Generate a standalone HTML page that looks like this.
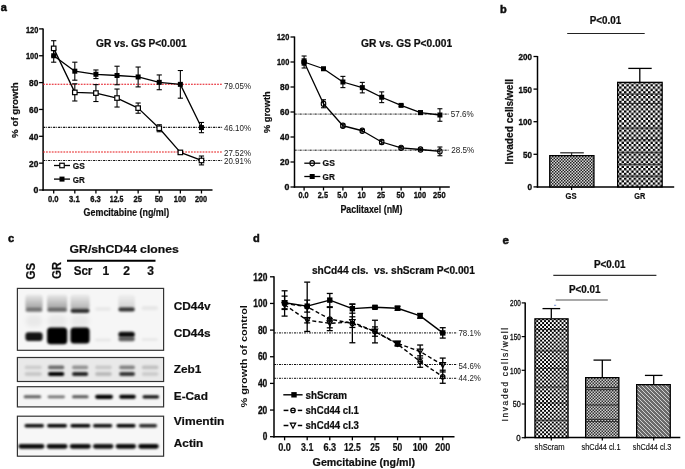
<!DOCTYPE html>
<html><head><meta charset="utf-8"><style>
html,body{margin:0;padding:0;background:#fff;}
body{width:685px;height:469px;overflow:hidden;}
svg{display:block;font-family:"Liberation Sans", sans-serif;}
</style></head><body>
<svg width="685" height="469" viewBox="0 0 685 469">
<rect width="685" height="469" fill="#fff"/>
<defs>
<pattern id="chk" width="4.8" height="4.8" patternUnits="userSpaceOnUse"><rect width="4.8" height="4.8" fill="#fff"/><rect width="2.4" height="2.4" fill="#000"/><rect x="2.4" y="2.4" width="2.4" height="2.4" fill="#000"/></pattern>
<pattern id="chk2" width="3.9" height="3.9" patternUnits="userSpaceOnUse" x="534.3" y="318.2"><rect width="3.9" height="3.9" fill="#fff"/><rect width="1.95" height="1.95" fill="#000"/><rect x="1.95" y="1.95" width="1.95" height="1.95" fill="#000"/></pattern>
<pattern id="fine" width="3" height="3" patternUnits="userSpaceOnUse"><rect width="3" height="3" fill="#d8d8d8"/><rect width="1.5" height="1.5" fill="#222"/><rect x="1.5" y="1.5" width="1.5" height="1.5" fill="#222"/></pattern>
<pattern id="fine2" width="3" height="3" patternUnits="userSpaceOnUse"><rect width="3" height="3" fill="#d0d0d0"/><rect width="1.5" height="1.5" fill="#333"/><rect x="1.5" y="1.5" width="1.5" height="1.5" fill="#333"/></pattern>
<pattern id="diag" width="4" height="4" patternUnits="userSpaceOnUse"><rect width="4" height="4" fill="#6a6a6a"/><path d="M0,0 L4,4" stroke="#ddd" stroke-width="0.9"/></pattern>
<filter id="blur1" x="-50%" y="-50%" width="200%" height="200%"><feGaussianBlur stdDeviation="1.6"/></filter>
<filter id="blur2" x="-50%" y="-50%" width="200%" height="200%"><feGaussianBlur stdDeviation="2.6"/></filter>
<filter id="blurS" x="-50%" y="-50%" width="200%" height="200%"><feGaussianBlur stdDeviation="0.35"/></filter>
<filter id="bl5" x="-50%" y="-100%" width="200%" height="300%"><feGaussianBlur stdDeviation="0.5"/></filter>
<filter id="bl6" x="-50%" y="-100%" width="200%" height="300%"><feGaussianBlur stdDeviation="0.6"/></filter>
<filter id="bl7" x="-50%" y="-100%" width="200%" height="300%"><feGaussianBlur stdDeviation="0.7"/></filter>
<filter id="bl8" x="-50%" y="-100%" width="200%" height="300%"><feGaussianBlur stdDeviation="0.8"/></filter>
<filter id="bl9" x="-50%" y="-100%" width="200%" height="300%"><feGaussianBlur stdDeviation="0.9"/></filter>
<filter id="bl10" x="-50%" y="-100%" width="200%" height="300%"><feGaussianBlur stdDeviation="1.0"/></filter>
<filter id="bl11" x="-50%" y="-100%" width="200%" height="300%"><feGaussianBlur stdDeviation="1.1"/></filter>
<filter id="bl12" x="-50%" y="-100%" width="200%" height="300%"><feGaussianBlur stdDeviation="1.2"/></filter>
<filter id="bl13" x="-50%" y="-100%" width="200%" height="300%"><feGaussianBlur stdDeviation="1.3"/></filter>
<filter id="bl14" x="-50%" y="-100%" width="200%" height="300%"><feGaussianBlur stdDeviation="1.4"/></filter>
<filter id="bl15" x="-50%" y="-100%" width="200%" height="300%"><feGaussianBlur stdDeviation="1.5"/></filter>
<filter id="bl16" x="-50%" y="-100%" width="200%" height="300%"><feGaussianBlur stdDeviation="1.6"/></filter>
<filter id="bl17" x="-50%" y="-100%" width="200%" height="300%"><feGaussianBlur stdDeviation="1.7"/></filter>
<filter id="bl18" x="-50%" y="-100%" width="200%" height="300%"><feGaussianBlur stdDeviation="1.8"/></filter>
<filter id="bl19" x="-50%" y="-100%" width="200%" height="300%"><feGaussianBlur stdDeviation="1.9"/></filter>
<filter id="bl20" x="-50%" y="-100%" width="200%" height="300%"><feGaussianBlur stdDeviation="2.0"/></filter>
<filter id="bl21" x="-50%" y="-100%" width="200%" height="300%"><feGaussianBlur stdDeviation="2.1"/></filter>
<filter id="bl22" x="-50%" y="-100%" width="200%" height="300%"><feGaussianBlur stdDeviation="2.2"/></filter>
<filter id="bl23" x="-50%" y="-100%" width="200%" height="300%"><feGaussianBlur stdDeviation="2.3"/></filter>
<filter id="bl24" x="-50%" y="-100%" width="200%" height="300%"><feGaussianBlur stdDeviation="2.4"/></filter>
</defs>
<g filter="url(#blurS)">
<text x="0.70" y="11.10" font-size="11" font-weight="bold" text-anchor="start" fill="#111" stroke="#111" stroke-width="0.5">a</text>
<line x1="43.10" y1="28.40" x2="43.10" y2="190.75" stroke="#000" stroke-width="1.5" />
<line x1="42.35" y1="190.00" x2="212.50" y2="190.00" stroke="#000" stroke-width="1.5" />
<line x1="39.10" y1="190.00" x2="43.10" y2="190.00" stroke="#000" stroke-width="1.3" />
<text x="38.30" y="193.20" font-size="8.8" font-weight="bold" text-anchor="end" fill="#111" stroke="#111" stroke-width="0.35">0</text>
<line x1="39.10" y1="163.15" x2="43.10" y2="163.15" stroke="#000" stroke-width="1.3" />
<text x="38.30" y="166.75" font-size="8.8" font-weight="bold" text-anchor="end" fill="#111" textLength="9.3" lengthAdjust="spacingAndGlyphs" stroke="#111" stroke-width="0.35">20</text>
<line x1="39.10" y1="136.30" x2="43.10" y2="136.30" stroke="#000" stroke-width="1.3" />
<text x="38.30" y="139.90" font-size="8.8" font-weight="bold" text-anchor="end" fill="#111" textLength="9.3" lengthAdjust="spacingAndGlyphs" stroke="#111" stroke-width="0.35">40</text>
<line x1="39.10" y1="109.45" x2="43.10" y2="109.45" stroke="#000" stroke-width="1.3" />
<text x="38.30" y="113.05" font-size="8.8" font-weight="bold" text-anchor="end" fill="#111" textLength="9.3" lengthAdjust="spacingAndGlyphs" stroke="#111" stroke-width="0.35">60</text>
<line x1="39.10" y1="82.60" x2="43.10" y2="82.60" stroke="#000" stroke-width="1.3" />
<text x="38.30" y="86.20" font-size="8.8" font-weight="bold" text-anchor="end" fill="#111" textLength="9.3" lengthAdjust="spacingAndGlyphs" stroke="#111" stroke-width="0.35">80</text>
<line x1="39.10" y1="55.75" x2="43.10" y2="55.75" stroke="#000" stroke-width="1.3" />
<text x="38.30" y="59.35" font-size="8.8" font-weight="bold" text-anchor="end" fill="#111" textLength="12.3" lengthAdjust="spacingAndGlyphs" stroke="#111" stroke-width="0.35">100</text>
<line x1="39.10" y1="28.90" x2="43.10" y2="28.90" stroke="#000" stroke-width="1.3" />
<text x="38.30" y="32.50" font-size="8.8" font-weight="bold" text-anchor="end" fill="#111" textLength="12.3" lengthAdjust="spacingAndGlyphs" stroke="#111" stroke-width="0.35">120</text>
<line x1="53.70" y1="190.00" x2="53.70" y2="193.50" stroke="#000" stroke-width="1.3" />
<text x="53.30" y="202.30" font-size="9.3" font-weight="bold" text-anchor="middle" fill="#111" textLength="10.6" lengthAdjust="spacingAndGlyphs" stroke="#111" stroke-width="0.35">0.0</text>
<line x1="74.81" y1="190.00" x2="74.81" y2="193.50" stroke="#000" stroke-width="1.3" />
<text x="74.41" y="202.30" font-size="9.3" font-weight="bold" text-anchor="middle" fill="#111" textLength="10.6" lengthAdjust="spacingAndGlyphs" stroke="#111" stroke-width="0.35">3.1</text>
<line x1="95.92" y1="190.00" x2="95.92" y2="193.50" stroke="#000" stroke-width="1.3" />
<text x="95.52" y="202.30" font-size="9.3" font-weight="bold" text-anchor="middle" fill="#111" textLength="10.6" lengthAdjust="spacingAndGlyphs" stroke="#111" stroke-width="0.35">6.3</text>
<line x1="117.03" y1="190.00" x2="117.03" y2="193.50" stroke="#000" stroke-width="1.3" />
<text x="116.63" y="202.30" font-size="9.3" font-weight="bold" text-anchor="middle" fill="#111" textLength="13.6" lengthAdjust="spacingAndGlyphs" stroke="#111" stroke-width="0.35">12.5</text>
<line x1="138.14" y1="190.00" x2="138.14" y2="193.50" stroke="#000" stroke-width="1.3" />
<text x="137.74" y="202.30" font-size="9.3" font-weight="bold" text-anchor="middle" fill="#111" textLength="8.4" lengthAdjust="spacingAndGlyphs" stroke="#111" stroke-width="0.35">25</text>
<line x1="159.25" y1="190.00" x2="159.25" y2="193.50" stroke="#000" stroke-width="1.3" />
<text x="158.85" y="202.30" font-size="9.3" font-weight="bold" text-anchor="middle" fill="#111" textLength="8.4" lengthAdjust="spacingAndGlyphs" stroke="#111" stroke-width="0.35">50</text>
<line x1="180.36" y1="190.00" x2="180.36" y2="193.50" stroke="#000" stroke-width="1.3" />
<text x="179.96" y="202.30" font-size="9.3" font-weight="bold" text-anchor="middle" fill="#111" textLength="12.3" lengthAdjust="spacingAndGlyphs" stroke="#111" stroke-width="0.35">100</text>
<line x1="201.47" y1="190.00" x2="201.47" y2="193.50" stroke="#000" stroke-width="1.3" />
<text x="201.07" y="202.30" font-size="9.3" font-weight="bold" text-anchor="middle" fill="#111" textLength="12.3" lengthAdjust="spacingAndGlyphs" stroke="#111" stroke-width="0.35">200</text>
<text x="83.60" y="215.80" font-size="10.4" font-weight="bold" text-anchor="start" fill="#111" textLength="85.6" lengthAdjust="spacingAndGlyphs" stroke="#111" stroke-width="0.22">Gemcitabine (ng/ml)</text>
<text x="18.40" y="137.90" font-size="8.4" font-weight="bold" text-anchor="start" fill="#111" textLength="55.7" lengthAdjust="spacingAndGlyphs" transform="rotate(-90 18.40 137.90)" stroke="#111" stroke-width="0.22">% of growth</text>
<text x="96.00" y="47.00" font-size="10" font-weight="bold" text-anchor="start" fill="#111" textLength="90.7" lengthAdjust="spacingAndGlyphs" stroke="#111" stroke-width="0.22">GR vs. GS P&lt;0.001</text>
<line x1="43.10" y1="84.20" x2="222.60" y2="84.20" stroke="#e5141c" stroke-width="1.1" stroke-dasharray="1.8,1.1" />
<line x1="43.10" y1="127.40" x2="222.60" y2="127.40" stroke="#111" stroke-width="1.1" stroke-dasharray="2.2,1,0.8,1" />
<line x1="43.10" y1="152.00" x2="222.60" y2="152.00" stroke="#e5141c" stroke-width="1.1" stroke-dasharray="1.8,1.1" />
<line x1="43.10" y1="160.50" x2="222.60" y2="160.50" stroke="#111" stroke-width="1.1" stroke-dasharray="2.2,1,0.8,1" />
<text x="224.00" y="89.30" font-size="8.2" font-weight="normal" text-anchor="start" fill="#222" textLength="27.0" lengthAdjust="spacingAndGlyphs" >79.05%</text>
<text x="224.00" y="131.00" font-size="8.2" font-weight="normal" text-anchor="start" fill="#222" textLength="27.0" lengthAdjust="spacingAndGlyphs" >46.10%</text>
<text x="224.00" y="156.00" font-size="8.2" font-weight="normal" text-anchor="start" fill="#222" textLength="27.0" lengthAdjust="spacingAndGlyphs" >27.52%</text>
<text x="224.00" y="164.20" font-size="8.2" font-weight="normal" text-anchor="start" fill="#222" textLength="27.0" lengthAdjust="spacingAndGlyphs" >20.91%</text>
<line x1="53.70" y1="40.71" x2="53.70" y2="56.02" stroke="#000" stroke-width="1.1" />
<line x1="51.10" y1="40.71" x2="56.30" y2="40.71" stroke="#000" stroke-width="1.1" />
<line x1="51.10" y1="56.02" x2="56.30" y2="56.02" stroke="#000" stroke-width="1.1" />
<line x1="53.70" y1="49.31" x2="53.70" y2="62.19" stroke="#000" stroke-width="1.1" />
<line x1="51.10" y1="49.31" x2="56.30" y2="49.31" stroke="#000" stroke-width="1.1" />
<line x1="51.10" y1="62.19" x2="56.30" y2="62.19" stroke="#000" stroke-width="1.1" />
<line x1="74.81" y1="83.81" x2="74.81" y2="100.99" stroke="#000" stroke-width="1.1" />
<line x1="72.21" y1="83.81" x2="77.41" y2="83.81" stroke="#000" stroke-width="1.1" />
<line x1="72.21" y1="100.99" x2="77.41" y2="100.99" stroke="#000" stroke-width="1.1" />
<line x1="74.81" y1="62.19" x2="74.81" y2="80.18" stroke="#000" stroke-width="1.1" />
<line x1="72.21" y1="62.19" x2="77.41" y2="62.19" stroke="#000" stroke-width="1.1" />
<line x1="72.21" y1="80.18" x2="77.41" y2="80.18" stroke="#000" stroke-width="1.1" />
<line x1="95.92" y1="84.61" x2="95.92" y2="101.53" stroke="#000" stroke-width="1.1" />
<line x1="93.32" y1="84.61" x2="98.52" y2="84.61" stroke="#000" stroke-width="1.1" />
<line x1="93.32" y1="101.53" x2="98.52" y2="101.53" stroke="#000" stroke-width="1.1" />
<line x1="95.92" y1="69.98" x2="95.92" y2="78.57" stroke="#000" stroke-width="1.1" />
<line x1="93.32" y1="69.98" x2="98.52" y2="69.98" stroke="#000" stroke-width="1.1" />
<line x1="93.32" y1="78.57" x2="98.52" y2="78.57" stroke="#000" stroke-width="1.1" />
<line x1="117.03" y1="89.04" x2="117.03" y2="107.03" stroke="#000" stroke-width="1.1" />
<line x1="114.43" y1="89.04" x2="119.63" y2="89.04" stroke="#000" stroke-width="1.1" />
<line x1="114.43" y1="107.03" x2="119.63" y2="107.03" stroke="#000" stroke-width="1.1" />
<line x1="117.03" y1="66.22" x2="117.03" y2="84.75" stroke="#000" stroke-width="1.1" />
<line x1="114.43" y1="66.22" x2="119.63" y2="66.22" stroke="#000" stroke-width="1.1" />
<line x1="114.43" y1="84.75" x2="119.63" y2="84.75" stroke="#000" stroke-width="1.1" />
<line x1="138.14" y1="103.01" x2="138.14" y2="113.21" stroke="#000" stroke-width="1.1" />
<line x1="135.54" y1="103.01" x2="140.74" y2="103.01" stroke="#000" stroke-width="1.1" />
<line x1="135.54" y1="113.21" x2="140.74" y2="113.21" stroke="#000" stroke-width="1.1" />
<line x1="138.14" y1="67.03" x2="138.14" y2="86.90" stroke="#000" stroke-width="1.1" />
<line x1="135.54" y1="67.03" x2="140.74" y2="67.03" stroke="#000" stroke-width="1.1" />
<line x1="135.54" y1="86.90" x2="140.74" y2="86.90" stroke="#000" stroke-width="1.1" />
<line x1="159.25" y1="124.75" x2="159.25" y2="131.74" stroke="#000" stroke-width="1.1" />
<line x1="156.65" y1="124.75" x2="161.85" y2="124.75" stroke="#000" stroke-width="1.1" />
<line x1="156.65" y1="131.74" x2="161.85" y2="131.74" stroke="#000" stroke-width="1.1" />
<line x1="159.25" y1="74.95" x2="159.25" y2="89.72" stroke="#000" stroke-width="1.1" />
<line x1="156.65" y1="74.95" x2="161.85" y2="74.95" stroke="#000" stroke-width="1.1" />
<line x1="156.65" y1="89.72" x2="161.85" y2="89.72" stroke="#000" stroke-width="1.1" />
<line x1="180.36" y1="150.80" x2="180.36" y2="154.02" stroke="#000" stroke-width="1.1" />
<line x1="177.76" y1="150.80" x2="182.96" y2="150.80" stroke="#000" stroke-width="1.1" />
<line x1="177.76" y1="154.02" x2="182.96" y2="154.02" stroke="#000" stroke-width="1.1" />
<line x1="180.36" y1="70.52" x2="180.36" y2="98.17" stroke="#000" stroke-width="1.1" />
<line x1="177.76" y1="70.52" x2="182.96" y2="70.52" stroke="#000" stroke-width="1.1" />
<line x1="177.76" y1="98.17" x2="182.96" y2="98.17" stroke="#000" stroke-width="1.1" />
<line x1="201.47" y1="156.03" x2="201.47" y2="164.90" stroke="#000" stroke-width="1.1" />
<line x1="198.87" y1="156.03" x2="204.07" y2="156.03" stroke="#000" stroke-width="1.1" />
<line x1="198.87" y1="164.90" x2="204.07" y2="164.90" stroke="#000" stroke-width="1.1" />
<line x1="201.47" y1="122.47" x2="201.47" y2="132.68" stroke="#000" stroke-width="1.1" />
<line x1="198.87" y1="122.47" x2="204.07" y2="122.47" stroke="#000" stroke-width="1.1" />
<line x1="198.87" y1="132.68" x2="204.07" y2="132.68" stroke="#000" stroke-width="1.1" />
<polyline points="53.70,48.37 74.81,92.40 95.92,93.07 117.03,98.04 138.14,108.11 159.25,128.25 180.36,152.41 201.47,160.47" fill="none" stroke="#000" stroke-width="1.3" stroke-linejoin="round"/>
<polyline points="53.70,55.75 74.81,71.19 95.92,74.28 117.03,75.48 138.14,76.96 159.25,82.33 180.36,84.35 201.47,127.57" fill="none" stroke="#000" stroke-width="1.3" stroke-linejoin="round"/>
<rect x="51.45" y="46.12" width="4.50" height="4.50" fill="#fff" stroke="#000" stroke-width="1.2" />
<rect x="51.20" y="53.25" width="5.00" height="5.00" fill="#000" stroke="none" stroke-width="1" />
<rect x="72.56" y="90.15" width="4.50" height="4.50" fill="#fff" stroke="#000" stroke-width="1.2" />
<rect x="72.31" y="68.69" width="5.00" height="5.00" fill="#000" stroke="none" stroke-width="1" />
<rect x="93.67" y="90.82" width="4.50" height="4.50" fill="#fff" stroke="#000" stroke-width="1.2" />
<rect x="93.42" y="71.78" width="5.00" height="5.00" fill="#000" stroke="none" stroke-width="1" />
<rect x="114.78" y="95.79" width="4.50" height="4.50" fill="#fff" stroke="#000" stroke-width="1.2" />
<rect x="114.53" y="72.98" width="5.00" height="5.00" fill="#000" stroke="none" stroke-width="1" />
<rect x="135.89" y="105.86" width="4.50" height="4.50" fill="#fff" stroke="#000" stroke-width="1.2" />
<rect x="135.64" y="74.46" width="5.00" height="5.00" fill="#000" stroke="none" stroke-width="1" />
<rect x="157.00" y="126.00" width="4.50" height="4.50" fill="#fff" stroke="#000" stroke-width="1.2" />
<rect x="156.75" y="79.83" width="5.00" height="5.00" fill="#000" stroke="none" stroke-width="1" />
<rect x="178.11" y="150.16" width="4.50" height="4.50" fill="#fff" stroke="#000" stroke-width="1.2" />
<rect x="177.86" y="81.85" width="5.00" height="5.00" fill="#000" stroke="none" stroke-width="1" />
<rect x="199.22" y="158.22" width="4.50" height="4.50" fill="#fff" stroke="#000" stroke-width="1.2" />
<rect x="198.97" y="125.07" width="5.00" height="5.00" fill="#000" stroke="none" stroke-width="1" />
<line x1="54.00" y1="165.50" x2="70.00" y2="165.50" stroke="#000" stroke-width="1.3" />
<rect x="59.75" y="163.25" width="4.50" height="4.50" fill="#fff" stroke="#000" stroke-width="1.2" />
<text x="72.80" y="169.00" font-size="9.2" font-weight="bold" text-anchor="start" fill="#111" textLength="12.0" lengthAdjust="spacingAndGlyphs" stroke="#111" stroke-width="0.22">GS</text>
<line x1="54.00" y1="179.10" x2="70.00" y2="179.10" stroke="#000" stroke-width="1.3" />
<rect x="59.50" y="176.60" width="5.00" height="5.00" fill="#000" stroke="none" stroke-width="1" />
<text x="72.80" y="182.60" font-size="9.2" font-weight="bold" text-anchor="start" fill="#111" textLength="12.0" lengthAdjust="spacingAndGlyphs" stroke="#111" stroke-width="0.22">GR</text>
<line x1="294.50" y1="36.50" x2="294.50" y2="187.75" stroke="#000" stroke-width="1.5" />
<line x1="293.75" y1="187.00" x2="449.80" y2="187.00" stroke="#000" stroke-width="1.5" />
<line x1="290.50" y1="187.00" x2="294.50" y2="187.00" stroke="#000" stroke-width="1.3" />
<text x="289.30" y="190.40" font-size="8.8" font-weight="bold" text-anchor="end" fill="#111" stroke="#111" stroke-width="0.35">0</text>
<line x1="290.50" y1="162.00" x2="294.50" y2="162.00" stroke="#000" stroke-width="1.3" />
<text x="289.30" y="165.40" font-size="8.8" font-weight="bold" text-anchor="end" fill="#111" textLength="9.3" lengthAdjust="spacingAndGlyphs" stroke="#111" stroke-width="0.35">20</text>
<line x1="290.50" y1="137.00" x2="294.50" y2="137.00" stroke="#000" stroke-width="1.3" />
<text x="289.30" y="140.40" font-size="8.8" font-weight="bold" text-anchor="end" fill="#111" textLength="9.3" lengthAdjust="spacingAndGlyphs" stroke="#111" stroke-width="0.35">40</text>
<line x1="290.50" y1="112.00" x2="294.50" y2="112.00" stroke="#000" stroke-width="1.3" />
<text x="289.30" y="115.40" font-size="8.8" font-weight="bold" text-anchor="end" fill="#111" textLength="9.3" lengthAdjust="spacingAndGlyphs" stroke="#111" stroke-width="0.35">60</text>
<line x1="290.50" y1="87.00" x2="294.50" y2="87.00" stroke="#000" stroke-width="1.3" />
<text x="289.30" y="90.40" font-size="8.8" font-weight="bold" text-anchor="end" fill="#111" textLength="9.3" lengthAdjust="spacingAndGlyphs" stroke="#111" stroke-width="0.35">80</text>
<line x1="290.50" y1="62.00" x2="294.50" y2="62.00" stroke="#000" stroke-width="1.3" />
<text x="289.30" y="65.40" font-size="8.8" font-weight="bold" text-anchor="end" fill="#111" textLength="12.3" lengthAdjust="spacingAndGlyphs" stroke="#111" stroke-width="0.35">100</text>
<line x1="290.50" y1="37.00" x2="294.50" y2="37.00" stroke="#000" stroke-width="1.3" />
<text x="289.30" y="40.40" font-size="8.8" font-weight="bold" text-anchor="end" fill="#111" textLength="12.3" lengthAdjust="spacingAndGlyphs" stroke="#111" stroke-width="0.35">120</text>
<line x1="304.10" y1="187.00" x2="304.10" y2="190.50" stroke="#000" stroke-width="1.3" />
<text x="303.50" y="198.40" font-size="9.3" font-weight="bold" text-anchor="middle" fill="#111" textLength="10.2" lengthAdjust="spacingAndGlyphs" stroke="#111" stroke-width="0.35">0.0</text>
<line x1="323.50" y1="187.00" x2="323.50" y2="190.50" stroke="#000" stroke-width="1.3" />
<text x="322.90" y="198.40" font-size="9.3" font-weight="bold" text-anchor="middle" fill="#111" textLength="10.2" lengthAdjust="spacingAndGlyphs" stroke="#111" stroke-width="0.35">2.5</text>
<line x1="342.90" y1="187.00" x2="342.90" y2="190.50" stroke="#000" stroke-width="1.3" />
<text x="342.30" y="198.40" font-size="9.3" font-weight="bold" text-anchor="middle" fill="#111" textLength="10.2" lengthAdjust="spacingAndGlyphs" stroke="#111" stroke-width="0.35">5.0</text>
<line x1="362.30" y1="187.00" x2="362.30" y2="190.50" stroke="#000" stroke-width="1.3" />
<text x="361.70" y="198.40" font-size="9.3" font-weight="bold" text-anchor="middle" fill="#111" textLength="8.2" lengthAdjust="spacingAndGlyphs" stroke="#111" stroke-width="0.35">10</text>
<line x1="381.70" y1="187.00" x2="381.70" y2="190.50" stroke="#000" stroke-width="1.3" />
<text x="381.10" y="198.40" font-size="9.3" font-weight="bold" text-anchor="middle" fill="#111" textLength="8.2" lengthAdjust="spacingAndGlyphs" stroke="#111" stroke-width="0.35">25</text>
<line x1="401.10" y1="187.00" x2="401.10" y2="190.50" stroke="#000" stroke-width="1.3" />
<text x="400.50" y="198.40" font-size="9.3" font-weight="bold" text-anchor="middle" fill="#111" textLength="8.2" lengthAdjust="spacingAndGlyphs" stroke="#111" stroke-width="0.35">50</text>
<line x1="420.50" y1="187.00" x2="420.50" y2="190.50" stroke="#000" stroke-width="1.3" />
<text x="419.90" y="198.40" font-size="9.3" font-weight="bold" text-anchor="middle" fill="#111" textLength="12.5" lengthAdjust="spacingAndGlyphs" stroke="#111" stroke-width="0.35">100</text>
<line x1="439.90" y1="187.00" x2="439.90" y2="190.50" stroke="#000" stroke-width="1.3" />
<text x="439.30" y="198.40" font-size="9.3" font-weight="bold" text-anchor="middle" fill="#111" textLength="12.5" lengthAdjust="spacingAndGlyphs" stroke="#111" stroke-width="0.35">250</text>
<text x="340.40" y="212.60" font-size="10.2" font-weight="bold" text-anchor="start" fill="#111" textLength="62.0" lengthAdjust="spacingAndGlyphs" stroke="#111" stroke-width="0.22">Paclitaxel (nM)</text>
<text x="269.60" y="132.90" font-size="8.4" font-weight="bold" text-anchor="start" fill="#111" textLength="41.5" lengthAdjust="spacingAndGlyphs" transform="rotate(-90 269.60 132.90)" stroke="#111" stroke-width="0.22">% growth</text>
<text x="361.10" y="47.00" font-size="10" font-weight="bold" text-anchor="start" fill="#111" textLength="91.0" lengthAdjust="spacingAndGlyphs" stroke="#111" stroke-width="0.22">GR vs. GS P&lt;0.001</text>
<line x1="294.50" y1="114.10" x2="449.00" y2="114.10" stroke="#111" stroke-width="1.0" stroke-dasharray="2.2,1,0.8,1" />
<line x1="294.50" y1="150.20" x2="449.00" y2="150.20" stroke="#111" stroke-width="1.0" stroke-dasharray="2.2,1,0.8,1" />
<text x="450.80" y="117.20" font-size="8.2" font-weight="normal" text-anchor="start" fill="#222" textLength="23.0" lengthAdjust="spacingAndGlyphs" >57.6%</text>
<text x="451.30" y="153.20" font-size="8.2" font-weight="normal" text-anchor="start" fill="#222" textLength="23.0" lengthAdjust="spacingAndGlyphs" >28.5%</text>
<line x1="304.10" y1="58.88" x2="304.10" y2="65.12" stroke="#000" stroke-width="1.1" />
<line x1="301.60" y1="58.88" x2="306.60" y2="58.88" stroke="#000" stroke-width="1.1" />
<line x1="301.60" y1="65.12" x2="306.60" y2="65.12" stroke="#000" stroke-width="1.1" />
<line x1="304.10" y1="56.00" x2="304.10" y2="68.00" stroke="#000" stroke-width="1.1" />
<line x1="301.60" y1="56.00" x2="306.60" y2="56.00" stroke="#000" stroke-width="1.1" />
<line x1="301.60" y1="68.00" x2="306.60" y2="68.00" stroke="#000" stroke-width="1.1" />
<line x1="323.50" y1="99.75" x2="323.50" y2="107.75" stroke="#000" stroke-width="1.1" />
<line x1="321.00" y1="99.75" x2="326.00" y2="99.75" stroke="#000" stroke-width="1.1" />
<line x1="321.00" y1="107.75" x2="326.00" y2="107.75" stroke="#000" stroke-width="1.1" />
<line x1="323.50" y1="67.50" x2="323.50" y2="70.00" stroke="#000" stroke-width="1.1" />
<line x1="321.00" y1="67.50" x2="326.00" y2="67.50" stroke="#000" stroke-width="1.1" />
<line x1="321.00" y1="70.00" x2="326.00" y2="70.00" stroke="#000" stroke-width="1.1" />
<line x1="342.90" y1="124.25" x2="342.90" y2="127.25" stroke="#000" stroke-width="1.1" />
<line x1="340.40" y1="124.25" x2="345.40" y2="124.25" stroke="#000" stroke-width="1.1" />
<line x1="340.40" y1="127.25" x2="345.40" y2="127.25" stroke="#000" stroke-width="1.1" />
<line x1="342.90" y1="76.38" x2="342.90" y2="87.62" stroke="#000" stroke-width="1.1" />
<line x1="340.40" y1="76.38" x2="345.40" y2="76.38" stroke="#000" stroke-width="1.1" />
<line x1="340.40" y1="87.62" x2="345.40" y2="87.62" stroke="#000" stroke-width="1.1" />
<line x1="362.30" y1="129.50" x2="362.30" y2="132.00" stroke="#000" stroke-width="1.1" />
<line x1="359.80" y1="129.50" x2="364.80" y2="129.50" stroke="#000" stroke-width="1.1" />
<line x1="359.80" y1="132.00" x2="364.80" y2="132.00" stroke="#000" stroke-width="1.1" />
<line x1="362.30" y1="82.38" x2="362.30" y2="92.88" stroke="#000" stroke-width="1.1" />
<line x1="359.80" y1="82.38" x2="364.80" y2="82.38" stroke="#000" stroke-width="1.1" />
<line x1="359.80" y1="92.88" x2="364.80" y2="92.88" stroke="#000" stroke-width="1.1" />
<line x1="381.70" y1="140.12" x2="381.70" y2="143.88" stroke="#000" stroke-width="1.1" />
<line x1="379.20" y1="140.12" x2="384.20" y2="140.12" stroke="#000" stroke-width="1.1" />
<line x1="379.20" y1="143.88" x2="384.20" y2="143.88" stroke="#000" stroke-width="1.1" />
<line x1="381.70" y1="91.88" x2="381.70" y2="102.62" stroke="#000" stroke-width="1.1" />
<line x1="379.20" y1="91.88" x2="384.20" y2="91.88" stroke="#000" stroke-width="1.1" />
<line x1="379.20" y1="102.62" x2="384.20" y2="102.62" stroke="#000" stroke-width="1.1" />
<line x1="401.10" y1="146.62" x2="401.10" y2="149.12" stroke="#000" stroke-width="1.1" />
<line x1="398.60" y1="146.62" x2="403.60" y2="146.62" stroke="#000" stroke-width="1.1" />
<line x1="398.60" y1="149.12" x2="403.60" y2="149.12" stroke="#000" stroke-width="1.1" />
<line x1="401.10" y1="104.38" x2="401.10" y2="106.38" stroke="#000" stroke-width="1.1" />
<line x1="398.60" y1="104.38" x2="403.60" y2="104.38" stroke="#000" stroke-width="1.1" />
<line x1="398.60" y1="106.38" x2="403.60" y2="106.38" stroke="#000" stroke-width="1.1" />
<line x1="420.50" y1="148.25" x2="420.50" y2="150.75" stroke="#000" stroke-width="1.1" />
<line x1="418.00" y1="148.25" x2="423.00" y2="148.25" stroke="#000" stroke-width="1.1" />
<line x1="418.00" y1="150.75" x2="423.00" y2="150.75" stroke="#000" stroke-width="1.1" />
<line x1="420.50" y1="110.75" x2="420.50" y2="114.50" stroke="#000" stroke-width="1.1" />
<line x1="418.00" y1="110.75" x2="423.00" y2="110.75" stroke="#000" stroke-width="1.1" />
<line x1="418.00" y1="114.50" x2="423.00" y2="114.50" stroke="#000" stroke-width="1.1" />
<line x1="439.90" y1="147.00" x2="439.90" y2="155.75" stroke="#000" stroke-width="1.1" />
<line x1="437.40" y1="147.00" x2="442.40" y2="147.00" stroke="#000" stroke-width="1.1" />
<line x1="437.40" y1="155.75" x2="442.40" y2="155.75" stroke="#000" stroke-width="1.1" />
<line x1="439.90" y1="108.75" x2="439.90" y2="121.25" stroke="#000" stroke-width="1.1" />
<line x1="437.40" y1="108.75" x2="442.40" y2="108.75" stroke="#000" stroke-width="1.1" />
<line x1="437.40" y1="121.25" x2="442.40" y2="121.25" stroke="#000" stroke-width="1.1" />
<polyline points="304.10,62.00 323.50,103.75 342.90,125.75 362.30,130.75 381.70,142.00 401.10,147.88 420.50,149.50 439.90,151.38" fill="none" stroke="#000" stroke-width="1.3" stroke-linejoin="round"/>
<polyline points="304.10,62.00 323.50,68.75 342.90,82.00 362.30,87.62 381.70,97.25 401.10,105.38 420.50,112.62 439.90,115.00" fill="none" stroke="#000" stroke-width="1.3" stroke-linejoin="round"/>
<rect x="301.90" y="59.40" width="4.4" height="5.2" rx="2.0" ry="2.2" fill="none" stroke="#000" stroke-width="1.15"/>
<rect x="301.60" y="59.50" width="5.00" height="5.00" fill="#000" stroke="none" stroke-width="1" />
<rect x="321.30" y="101.15" width="4.4" height="5.2" rx="2.0" ry="2.2" fill="none" stroke="#000" stroke-width="1.15"/>
<rect x="321.00" y="66.25" width="5.00" height="5.00" fill="#000" stroke="none" stroke-width="1" />
<rect x="340.70" y="123.15" width="4.4" height="5.2" rx="2.0" ry="2.2" fill="none" stroke="#000" stroke-width="1.15"/>
<rect x="340.40" y="79.50" width="5.00" height="5.00" fill="#000" stroke="none" stroke-width="1" />
<rect x="360.10" y="128.15" width="4.4" height="5.2" rx="2.0" ry="2.2" fill="none" stroke="#000" stroke-width="1.15"/>
<rect x="359.80" y="85.12" width="5.00" height="5.00" fill="#000" stroke="none" stroke-width="1" />
<rect x="379.50" y="139.40" width="4.4" height="5.2" rx="2.0" ry="2.2" fill="none" stroke="#000" stroke-width="1.15"/>
<rect x="379.20" y="94.75" width="5.00" height="5.00" fill="#000" stroke="none" stroke-width="1" />
<rect x="398.90" y="145.28" width="4.4" height="5.2" rx="2.0" ry="2.2" fill="none" stroke="#000" stroke-width="1.15"/>
<rect x="398.60" y="102.88" width="5.00" height="5.00" fill="#000" stroke="none" stroke-width="1" />
<rect x="418.30" y="146.90" width="4.4" height="5.2" rx="2.0" ry="2.2" fill="none" stroke="#000" stroke-width="1.15"/>
<rect x="418.00" y="110.12" width="5.00" height="5.00" fill="#000" stroke="none" stroke-width="1" />
<rect x="437.70" y="148.78" width="4.4" height="5.2" rx="2.0" ry="2.2" fill="none" stroke="#000" stroke-width="1.15"/>
<rect x="437.40" y="112.50" width="5.00" height="5.00" fill="#000" stroke="none" stroke-width="1" />
<line x1="304.30" y1="163.20" x2="320.30" y2="163.20" stroke="#000" stroke-width="1.3" />
<rect x="310.00" y="160.60" width="4.4" height="5.2" rx="2.0" ry="2.2" fill="none" stroke="#000" stroke-width="1.15"/>
<text x="322.60" y="165.60" font-size="8.8" font-weight="bold" text-anchor="start" fill="#111" textLength="12.3" lengthAdjust="spacingAndGlyphs" stroke="#111" stroke-width="0.22">GS</text>
<line x1="304.30" y1="176.50" x2="320.30" y2="176.50" stroke="#000" stroke-width="1.3" />
<rect x="309.70" y="174.00" width="5.00" height="5.00" fill="#000" stroke="none" stroke-width="1" />
<text x="322.60" y="179.60" font-size="8.8" font-weight="bold" text-anchor="start" fill="#111" textLength="12.3" lengthAdjust="spacingAndGlyphs" stroke="#111" stroke-width="0.22">GR</text>
<text x="500.00" y="13.40" font-size="11" font-weight="bold" text-anchor="start" fill="#111" stroke="#111" stroke-width="0.5">b</text>
<text x="589.70" y="23.90" font-size="10" font-weight="bold" text-anchor="start" fill="#111" textLength="31.5" lengthAdjust="spacingAndGlyphs" stroke="#111" stroke-width="0.22">P&lt;0.01</text>
<line x1="567.20" y1="33.50" x2="644.70" y2="33.50" stroke="#222" stroke-width="1.2" />
<line x1="537.50" y1="56.00" x2="537.50" y2="187.65" stroke="#000" stroke-width="1.5" />
<line x1="536.75" y1="186.90" x2="674.20" y2="186.90" stroke="#000" stroke-width="1.5" />
<line x1="533.50" y1="186.90" x2="537.50" y2="186.90" stroke="#000" stroke-width="1.3" />
<text x="532.00" y="190.30" font-size="8.8" font-weight="bold" text-anchor="end" fill="#111" textLength="4.6" lengthAdjust="spacingAndGlyphs" stroke="#111" stroke-width="0.35">0</text>
<line x1="533.50" y1="154.30" x2="537.50" y2="154.30" stroke="#000" stroke-width="1.3" />
<text x="532.00" y="157.70" font-size="8.8" font-weight="bold" text-anchor="end" fill="#111" textLength="9.0" lengthAdjust="spacingAndGlyphs" stroke="#111" stroke-width="0.35">50</text>
<line x1="533.50" y1="121.70" x2="537.50" y2="121.70" stroke="#000" stroke-width="1.3" />
<text x="532.00" y="125.10" font-size="8.8" font-weight="bold" text-anchor="end" fill="#111" textLength="13.4" lengthAdjust="spacingAndGlyphs" stroke="#111" stroke-width="0.35">100</text>
<line x1="533.50" y1="89.10" x2="537.50" y2="89.10" stroke="#000" stroke-width="1.3" />
<text x="532.00" y="92.50" font-size="8.8" font-weight="bold" text-anchor="end" fill="#111" textLength="13.4" lengthAdjust="spacingAndGlyphs" stroke="#111" stroke-width="0.35">150</text>
<line x1="533.50" y1="56.50" x2="537.50" y2="56.50" stroke="#000" stroke-width="1.3" />
<text x="532.00" y="59.90" font-size="8.8" font-weight="bold" text-anchor="end" fill="#111" textLength="13.4" lengthAdjust="spacingAndGlyphs" stroke="#111" stroke-width="0.35">200</text>
<rect x="549.75" y="155.65" width="44.20" height="31.25" fill="url(#fine)" stroke="#000" stroke-width="1.3" />
<line x1="571.60" y1="155.00" x2="571.60" y2="152.80" stroke="#333" stroke-width="1.2" />
<line x1="560.20" y1="152.80" x2="583.80" y2="152.80" stroke="#333" stroke-width="1.3" />
<rect x="617.65" y="82.35" width="44.50" height="104.55" fill="url(#chk)" stroke="#000" stroke-width="1.3" />
<line x1="618.30" y1="94.10" x2="661.50" y2="94.10" stroke="#222" stroke-width="0.8" />
<line x1="618.30" y1="103.50" x2="661.50" y2="103.50" stroke="#222" stroke-width="0.8" />
<line x1="618.30" y1="128.10" x2="661.50" y2="128.10" stroke="#222" stroke-width="0.8" />
<line x1="618.30" y1="139.80" x2="661.50" y2="139.80" stroke="#222" stroke-width="0.8" />
<line x1="618.30" y1="152.70" x2="661.50" y2="152.70" stroke="#222" stroke-width="0.8" />
<line x1="618.30" y1="164.40" x2="661.50" y2="164.40" stroke="#222" stroke-width="0.8" />
<line x1="618.30" y1="176.20" x2="661.50" y2="176.20" stroke="#222" stroke-width="0.8" />
<line x1="639.80" y1="82.00" x2="639.80" y2="68.40" stroke="#000" stroke-width="1.3" />
<line x1="628.30" y1="68.40" x2="651.70" y2="68.40" stroke="#000" stroke-width="1.3" />
<line x1="571.60" y1="186.90" x2="571.60" y2="189.90" stroke="#000" stroke-width="1.2" />
<line x1="639.80" y1="186.90" x2="639.80" y2="189.90" stroke="#000" stroke-width="1.2" />
<text x="571.00" y="199.20" font-size="9.0" font-weight="bold" text-anchor="middle" fill="#111" textLength="11.0" lengthAdjust="spacingAndGlyphs" stroke="#111" stroke-width="0.22">GS</text>
<text x="639.80" y="199.20" font-size="9.0" font-weight="bold" text-anchor="middle" fill="#111" textLength="11.0" lengthAdjust="spacingAndGlyphs" stroke="#111" stroke-width="0.22">GR</text>
<text x="512.60" y="164.40" font-size="10.2" font-weight="bold" text-anchor="start" fill="#111" textLength="85.5" lengthAdjust="spacingAndGlyphs" transform="rotate(-90 512.60 164.40)" stroke="#111" stroke-width="0.22">Invaded cells/well</text>
<text x="7.90" y="242.00" font-size="11" font-weight="bold" text-anchor="start" fill="#111" stroke="#111" stroke-width="0.5">c</text>
<text x="35.50" y="279.40" font-size="12" font-weight="bold" text-anchor="start" fill="#111" textLength="16.6" lengthAdjust="spacingAndGlyphs" transform="rotate(-90 35.50 279.40)" stroke="#111" stroke-width="0.22">GS</text>
<text x="61.40" y="279.10" font-size="12" font-weight="bold" text-anchor="start" fill="#111" textLength="17.2" lengthAdjust="spacingAndGlyphs" transform="rotate(-90 61.40 279.10)" stroke="#111" stroke-width="0.22">GR</text>
<text x="69.60" y="253.30" font-size="11.4" font-weight="bold" text-anchor="start" fill="#111" textLength="109.2" lengthAdjust="spacingAndGlyphs" stroke="#111" stroke-width="0.22">GR/shCD44 clones</text>
<line x1="67.00" y1="260.70" x2="155.50" y2="260.70" stroke="#000" stroke-width="2.0" />
<text x="73.70" y="275.20" font-size="12" font-weight="bold" text-anchor="start" fill="#111" textLength="18.7" lengthAdjust="spacingAndGlyphs" stroke="#111" stroke-width="0.22">Scr</text>
<text x="105.90" y="275.20" font-size="12" font-weight="bold" text-anchor="middle" fill="#111" stroke="#111" stroke-width="0.22">1</text>
<text x="126.60" y="275.20" font-size="12" font-weight="bold" text-anchor="middle" fill="#111" stroke="#111" stroke-width="0.22">2</text>
<text x="150.60" y="275.20" font-size="12" font-weight="bold" text-anchor="middle" fill="#111" stroke="#111" stroke-width="0.22">3</text>
<text x="173.80" y="310.10" font-size="11.8" font-weight="bold" text-anchor="start" fill="#111" stroke="#111" stroke-width="0.22">CD44v</text>
<text x="173.80" y="336.90" font-size="11.8" font-weight="bold" text-anchor="start" fill="#111" stroke="#111" stroke-width="0.22">CD44s</text>
<text x="173.80" y="373.20" font-size="11.8" font-weight="bold" text-anchor="start" fill="#111" stroke="#111" stroke-width="0.22">Zeb1</text>
<text x="173.80" y="400.10" font-size="11.8" font-weight="bold" text-anchor="start" fill="#111" stroke="#111" stroke-width="0.22">E-Cad</text>
<text x="173.80" y="424.60" font-size="11.8" font-weight="bold" text-anchor="start" fill="#111" textLength="50.6" lengthAdjust="spacingAndGlyphs" stroke="#111" stroke-width="0.22">Vimentin</text>
<text x="173.80" y="447.40" font-size="11.8" font-weight="bold" text-anchor="start" fill="#111" stroke="#111" stroke-width="0.22">Actin</text>
</g>
<rect x="17.40" y="288.40" width="146.20" height="61.90" fill="#f6f6f6" stroke="none" stroke-width="1" />
<rect x="17.40" y="357.50" width="146.20" height="24.00" fill="#e9e9e9" stroke="none" stroke-width="1" />
<rect x="17.40" y="386.70" width="146.20" height="20.20" fill="#f5f5f5" stroke="none" stroke-width="1" />
<rect x="17.40" y="416.20" width="146.20" height="40.00" fill="#f7f7f7" stroke="none" stroke-width="1" />
<clipPath id="cb1"><rect x="17.4" y="288.4" width="146.2" height="61.9"/></clipPath>
<g clip-path="url(#cb1)">
<rect x="25.40" y="315.00" width="17.20" height="12.00" rx="6.00" fill="#000" fill-opacity="0.05" filter="url(#bl20)"/>
<rect x="47.10" y="315.00" width="20.10" height="12.00" rx="6.00" fill="#000" fill-opacity="0.05" filter="url(#bl20)"/>
<rect x="70.50" y="315.00" width="19.10" height="12.00" rx="6.00" fill="#000" fill-opacity="0.05" filter="url(#bl20)"/>
<linearGradient id="sm" x1="0" y1="0" x2="0" y2="1"><stop offset="0" stop-color="#000" stop-opacity="0.05"/><stop offset="0.55" stop-color="#000" stop-opacity="0.22"/><stop offset="1" stop-color="#000" stop-opacity="0.35"/></linearGradient>
<rect x="25.40" y="294.5" width="17.20" height="15" rx="3" fill="url(#sm)" fill-opacity="1.0" filter="url(#bl12)"/>
<rect x="47.10" y="294.5" width="20.10" height="15" rx="3" fill="url(#sm)" fill-opacity="1.0" filter="url(#bl12)"/>
<rect x="70.50" y="294.5" width="19.10" height="15" rx="3" fill="url(#sm)" fill-opacity="0.8" filter="url(#bl12)"/>
<rect x="118.40" y="294.5" width="16.40" height="15" rx="3" fill="url(#sm)" fill-opacity="0.45" filter="url(#bl12)"/>
<rect x="25.40" y="307.90" width="17.20" height="4.20" rx="2.10" fill="#000" fill-opacity="0.45" filter="url(#bl10)"/>
<rect x="47.10" y="307.90" width="20.10" height="4.20" rx="2.10" fill="#000" fill-opacity="0.5" filter="url(#bl10)"/>
<rect x="70.50" y="308.70" width="19.10" height="4.20" rx="2.10" fill="#000" fill-opacity="0.8" filter="url(#bl10)"/>
<rect x="95.00" y="306.90" width="16.00" height="4.20" rx="2.10" fill="#000" fill-opacity="0.05" filter="url(#bl10)"/>
<rect x="118.40" y="307.40" width="16.40" height="4.20" rx="2.10" fill="#000" fill-opacity="0.78" filter="url(#bl10)"/>
<rect x="141.50" y="306.10" width="16.50" height="4.20" rx="2.10" fill="#000" fill-opacity="0.06" filter="url(#bl10)"/>
<rect x="25.40" y="332.30" width="17.20" height="8.60" rx="3.00" fill="#000" fill-opacity="0.92" filter="url(#bl10)"/>
<rect x="47.10" y="327.40" width="20.10" height="16.80" rx="3.50" fill="#000" fill-opacity="1.0" filter="url(#bl10)"/>
<rect x="70.50" y="327.60" width="19.10" height="15.80" rx="3.50" fill="#000" fill-opacity="1.0" filter="url(#bl10)"/>
<rect x="95.00" y="338.50" width="16.00" height="3.00" rx="1.50" fill="#000" fill-opacity="0.06" filter="url(#bl10)"/>
<rect x="118.40" y="331.80" width="16.40" height="5.20" rx="2.60" fill="#000" fill-opacity="0.95" filter="url(#bl9)"/>
<rect x="118.40" y="336.80" width="16.40" height="4.40" rx="2.20" fill="#000" fill-opacity="0.62" filter="url(#bl9)"/>
<rect x="141.50" y="338.00" width="16.50" height="3.00" rx="1.50" fill="#000" fill-opacity="0.05" filter="url(#bl10)"/>
</g>
<rect x="24.60" y="365.60" width="17.30" height="3.60" rx="1.80" fill="#000" fill-opacity="0.12" filter="url(#bl9)"/>
<rect x="24.60" y="371.90" width="17.30" height="4.00" rx="2.00" fill="#000" fill-opacity="0.14" filter="url(#bl9)"/>
<rect x="48.00" y="365.60" width="16.30" height="3.60" rx="1.80" fill="#000" fill-opacity="0.55" filter="url(#bl9)"/>
<rect x="48.00" y="371.90" width="16.30" height="4.00" rx="2.00" fill="#000" fill-opacity="1.0" filter="url(#bl9)"/>
<rect x="72.00" y="365.60" width="16.20" height="3.60" rx="1.80" fill="#000" fill-opacity="0.38" filter="url(#bl9)"/>
<rect x="72.00" y="371.90" width="16.20" height="4.00" rx="2.00" fill="#000" fill-opacity="0.85" filter="url(#bl9)"/>
<rect x="95.10" y="365.60" width="16.70" height="3.60" rx="1.80" fill="#000" fill-opacity="0.14" filter="url(#bl9)"/>
<rect x="95.10" y="371.90" width="16.70" height="4.00" rx="2.00" fill="#000" fill-opacity="0.2" filter="url(#bl9)"/>
<rect x="119.20" y="365.60" width="15.80" height="3.60" rx="1.80" fill="#000" fill-opacity="0.45" filter="url(#bl9)"/>
<rect x="119.20" y="371.90" width="15.80" height="4.00" rx="2.00" fill="#000" fill-opacity="0.78" filter="url(#bl9)"/>
<rect x="141.80" y="365.60" width="16.70" height="3.60" rx="1.80" fill="#000" fill-opacity="0.18" filter="url(#bl9)"/>
<rect x="141.80" y="371.90" width="16.70" height="4.00" rx="2.00" fill="#000" fill-opacity="0.12" filter="url(#bl9)"/>
<rect x="23.70" y="395.30" width="17.50" height="3.00" rx="1.50" fill="#000" fill-opacity="0.62" filter="url(#bl8)"/>
<rect x="47.60" y="395.40" width="17.40" height="2.80" rx="1.40" fill="#000" fill-opacity="0.55" filter="url(#bl8)"/>
<rect x="72.00" y="395.30" width="16.60" height="3.00" rx="1.50" fill="#000" fill-opacity="0.65" filter="url(#bl8)"/>
<rect x="95.10" y="394.70" width="17.90" height="4.20" rx="2.10" fill="#000" fill-opacity="1.0" filter="url(#bl8)"/>
<rect x="119.20" y="394.80" width="16.60" height="4.00" rx="2.00" fill="#000" fill-opacity="1.0" filter="url(#bl8)"/>
<rect x="142.50" y="395.20" width="16.60" height="3.20" rx="1.60" fill="#000" fill-opacity="0.95" filter="url(#bl8)"/>
<rect x="24.50" y="424.00" width="19.50" height="3.60" rx="1.80" fill="#000" fill-opacity="0.95" filter="url(#bl8)"/>
<rect x="47.10" y="424.00" width="19.90" height="3.60" rx="1.80" fill="#000" fill-opacity="1.0" filter="url(#bl8)"/>
<rect x="70.40" y="424.00" width="20.00" height="3.60" rx="1.80" fill="#000" fill-opacity="1.0" filter="url(#bl8)"/>
<rect x="93.00" y="424.00" width="19.30" height="3.60" rx="1.80" fill="#000" fill-opacity="0.95" filter="url(#bl8)"/>
<rect x="116.40" y="424.00" width="19.20" height="3.60" rx="1.80" fill="#000" fill-opacity="1.0" filter="url(#bl8)"/>
<rect x="139.00" y="424.00" width="18.10" height="3.60" rx="1.80" fill="#000" fill-opacity="0.85" filter="url(#bl8)"/>
<rect x="18.40" y="443.90" width="26.00" height="4.80" rx="2.40" fill="#000" fill-opacity="0.95" filter="url(#bl8)"/>
<rect x="46.70" y="443.90" width="20.80" height="4.80" rx="2.40" fill="#000" fill-opacity="0.95" filter="url(#bl8)"/>
<rect x="69.80" y="443.90" width="21.00" height="4.80" rx="2.40" fill="#000" fill-opacity="0.95" filter="url(#bl8)"/>
<rect x="93.00" y="443.90" width="20.40" height="4.80" rx="2.40" fill="#000" fill-opacity="0.92" filter="url(#bl8)"/>
<rect x="115.70" y="443.90" width="20.30" height="4.80" rx="2.40" fill="#000" fill-opacity="0.95" filter="url(#bl8)"/>
<rect x="138.30" y="443.90" width="20.40" height="4.80" rx="2.40" fill="#000" fill-opacity="0.97" filter="url(#bl8)"/>
<rect x="17.40" y="288.40" width="146.20" height="61.90" fill="none" stroke="#333" stroke-width="1.2" />
<rect x="17.40" y="357.50" width="146.20" height="24.00" fill="none" stroke="#333" stroke-width="1.2" />
<rect x="17.40" y="386.70" width="146.20" height="20.20" fill="none" stroke="#333" stroke-width="1.2" />
<rect x="17.40" y="416.20" width="146.20" height="40.00" fill="none" stroke="#333" stroke-width="1.2" />
<g filter="url(#blurS)">
<text x="253.00" y="242.00" font-size="11" font-weight="bold" text-anchor="start" fill="#111" stroke="#111" stroke-width="0.5">d</text>
<line x1="274.00" y1="276.30" x2="274.00" y2="437.55" stroke="#000" stroke-width="1.5" />
<line x1="273.25" y1="436.80" x2="454.50" y2="436.80" stroke="#000" stroke-width="1.5" />
<line x1="270.00" y1="436.70" x2="274.00" y2="436.70" stroke="#000" stroke-width="1.3" />
<text x="267.30" y="440.40" font-size="10.3" font-weight="bold" text-anchor="end" fill="#111" textLength="4.6" lengthAdjust="spacingAndGlyphs" stroke="#111" stroke-width="0.35">0</text>
<line x1="270.00" y1="410.05" x2="274.00" y2="410.05" stroke="#000" stroke-width="1.3" />
<text x="267.30" y="413.75" font-size="10.3" font-weight="bold" text-anchor="end" fill="#111" textLength="9.4" lengthAdjust="spacingAndGlyphs" stroke="#111" stroke-width="0.35">20</text>
<line x1="270.00" y1="383.40" x2="274.00" y2="383.40" stroke="#000" stroke-width="1.3" />
<text x="267.30" y="387.10" font-size="10.3" font-weight="bold" text-anchor="end" fill="#111" textLength="9.4" lengthAdjust="spacingAndGlyphs" stroke="#111" stroke-width="0.35">40</text>
<line x1="270.00" y1="356.75" x2="274.00" y2="356.75" stroke="#000" stroke-width="1.3" />
<text x="267.30" y="360.45" font-size="10.3" font-weight="bold" text-anchor="end" fill="#111" textLength="9.4" lengthAdjust="spacingAndGlyphs" stroke="#111" stroke-width="0.35">60</text>
<line x1="270.00" y1="330.10" x2="274.00" y2="330.10" stroke="#000" stroke-width="1.3" />
<text x="267.30" y="333.80" font-size="10.3" font-weight="bold" text-anchor="end" fill="#111" textLength="9.4" lengthAdjust="spacingAndGlyphs" stroke="#111" stroke-width="0.35">80</text>
<line x1="270.00" y1="303.45" x2="274.00" y2="303.45" stroke="#000" stroke-width="1.3" />
<text x="267.30" y="307.15" font-size="10.3" font-weight="bold" text-anchor="end" fill="#111" textLength="14.0" lengthAdjust="spacingAndGlyphs" stroke="#111" stroke-width="0.35">100</text>
<line x1="270.00" y1="276.80" x2="274.00" y2="276.80" stroke="#000" stroke-width="1.3" />
<text x="267.30" y="280.50" font-size="10.3" font-weight="bold" text-anchor="end" fill="#111" textLength="14.0" lengthAdjust="spacingAndGlyphs" stroke="#111" stroke-width="0.35">120</text>
<line x1="284.60" y1="436.80" x2="284.60" y2="440.30" stroke="#000" stroke-width="1.3" />
<text x="284.60" y="450.90" font-size="10.3" font-weight="bold" text-anchor="middle" fill="#111" textLength="12.8" lengthAdjust="spacingAndGlyphs" stroke="#111" stroke-width="0.22">0.0</text>
<line x1="307.19" y1="436.80" x2="307.19" y2="440.30" stroke="#000" stroke-width="1.3" />
<text x="307.19" y="450.90" font-size="10.3" font-weight="bold" text-anchor="middle" fill="#111" textLength="12.3" lengthAdjust="spacingAndGlyphs" stroke="#111" stroke-width="0.22">3.1</text>
<line x1="329.78" y1="436.80" x2="329.78" y2="440.30" stroke="#000" stroke-width="1.3" />
<text x="329.78" y="450.90" font-size="10.3" font-weight="bold" text-anchor="middle" fill="#111" textLength="12.8" lengthAdjust="spacingAndGlyphs" stroke="#111" stroke-width="0.22">6.3</text>
<line x1="352.37" y1="436.80" x2="352.37" y2="440.30" stroke="#000" stroke-width="1.3" />
<text x="352.37" y="450.90" font-size="10.3" font-weight="bold" text-anchor="middle" fill="#111" textLength="16.8" lengthAdjust="spacingAndGlyphs" stroke="#111" stroke-width="0.22">12.5</text>
<line x1="374.96" y1="436.80" x2="374.96" y2="440.30" stroke="#000" stroke-width="1.3" />
<text x="374.96" y="450.90" font-size="10.3" font-weight="bold" text-anchor="middle" fill="#111" textLength="9.4" lengthAdjust="spacingAndGlyphs" stroke="#111" stroke-width="0.22">25</text>
<line x1="397.55" y1="436.80" x2="397.55" y2="440.30" stroke="#000" stroke-width="1.3" />
<text x="397.55" y="450.90" font-size="10.3" font-weight="bold" text-anchor="middle" fill="#111" textLength="9.4" lengthAdjust="spacingAndGlyphs" stroke="#111" stroke-width="0.22">50</text>
<line x1="420.14" y1="436.80" x2="420.14" y2="440.30" stroke="#000" stroke-width="1.3" />
<text x="420.14" y="450.90" font-size="10.3" font-weight="bold" text-anchor="middle" fill="#111" textLength="15.0" lengthAdjust="spacingAndGlyphs" stroke="#111" stroke-width="0.22">100</text>
<line x1="442.73" y1="436.80" x2="442.73" y2="440.30" stroke="#000" stroke-width="1.3" />
<text x="442.73" y="450.90" font-size="10.3" font-weight="bold" text-anchor="middle" fill="#111" textLength="15.0" lengthAdjust="spacingAndGlyphs" stroke="#111" stroke-width="0.22">200</text>
<text x="312.60" y="465.60" font-size="10.0" font-weight="bold" text-anchor="start" fill="#111" textLength="102.5" lengthAdjust="spacingAndGlyphs" stroke="#111" stroke-width="0.22">Gemcitabine (ng/ml)</text>
<text x="246.60" y="407.60" font-size="8.4" font-weight="bold" text-anchor="start" fill="#111" textLength="102.5" lengthAdjust="spacingAndGlyphs" transform="rotate(-90 246.60 407.60)" stroke-width="0">% growth of control</text>
<text x="311.90" y="274.10" font-size="10.3" font-weight="bold" text-anchor="start" fill="#111" textLength="163.0" lengthAdjust="spacingAndGlyphs" stroke="#111" stroke-width="0.22">shCd44 cls.  vs. shScram P&lt;0.001</text>
<line x1="274.00" y1="332.90" x2="457.30" y2="332.90" stroke="#111" stroke-width="1.0" stroke-dasharray="2.2,1,0.8,1" />
<text x="458.40" y="336.00" font-size="8.2" font-weight="normal" text-anchor="start" fill="#222" textLength="22.5" lengthAdjust="spacingAndGlyphs" >78.1%</text>
<line x1="274.00" y1="364.50" x2="457.30" y2="364.50" stroke="#111" stroke-width="1.0" stroke-dasharray="2.2,1,0.8,1" />
<text x="458.40" y="369.10" font-size="8.2" font-weight="normal" text-anchor="start" fill="#222" textLength="22.5" lengthAdjust="spacingAndGlyphs" >54.6%</text>
<line x1="274.00" y1="378.30" x2="457.30" y2="378.30" stroke="#111" stroke-width="1.0" stroke-dasharray="2.2,1,0.8,1" />
<text x="458.40" y="380.90" font-size="8.2" font-weight="normal" text-anchor="start" fill="#222" textLength="22.5" lengthAdjust="spacingAndGlyphs" >44.2%</text>
<line x1="284.60" y1="296.12" x2="284.60" y2="309.45" stroke="#000" stroke-width="1.3" />
<line x1="281.60" y1="296.12" x2="287.60" y2="296.12" stroke="#000" stroke-width="1.3" />
<line x1="281.60" y1="309.45" x2="287.60" y2="309.45" stroke="#000" stroke-width="1.3" />
<line x1="284.60" y1="290.79" x2="284.60" y2="316.11" stroke="#000" stroke-width="1.3" />
<line x1="281.60" y1="290.79" x2="287.60" y2="290.79" stroke="#000" stroke-width="1.3" />
<line x1="281.60" y1="316.11" x2="287.60" y2="316.11" stroke="#000" stroke-width="1.3" />
<line x1="284.60" y1="300.78" x2="284.60" y2="308.78" stroke="#000" stroke-width="1.3" />
<line x1="281.60" y1="300.78" x2="287.60" y2="300.78" stroke="#000" stroke-width="1.3" />
<line x1="281.60" y1="308.78" x2="287.60" y2="308.78" stroke="#000" stroke-width="1.3" />
<line x1="307.19" y1="300.12" x2="307.19" y2="312.11" stroke="#000" stroke-width="1.3" />
<line x1="304.19" y1="300.12" x2="310.19" y2="300.12" stroke="#000" stroke-width="1.3" />
<line x1="304.19" y1="312.11" x2="310.19" y2="312.11" stroke="#000" stroke-width="1.3" />
<line x1="307.19" y1="282.13" x2="307.19" y2="331.43" stroke="#000" stroke-width="1.3" />
<line x1="304.19" y1="282.13" x2="310.19" y2="282.13" stroke="#000" stroke-width="1.3" />
<line x1="304.19" y1="331.43" x2="310.19" y2="331.43" stroke="#000" stroke-width="1.3" />
<line x1="307.19" y1="317.57" x2="307.19" y2="322.90" stroke="#000" stroke-width="1.3" />
<line x1="304.19" y1="317.57" x2="310.19" y2="317.57" stroke="#000" stroke-width="1.3" />
<line x1="304.19" y1="322.90" x2="310.19" y2="322.90" stroke="#000" stroke-width="1.3" />
<line x1="329.78" y1="293.46" x2="329.78" y2="306.78" stroke="#000" stroke-width="1.3" />
<line x1="326.78" y1="293.46" x2="332.78" y2="293.46" stroke="#000" stroke-width="1.3" />
<line x1="326.78" y1="306.78" x2="332.78" y2="306.78" stroke="#000" stroke-width="1.3" />
<line x1="329.78" y1="307.45" x2="329.78" y2="330.63" stroke="#000" stroke-width="1.3" />
<line x1="326.78" y1="307.45" x2="332.78" y2="307.45" stroke="#000" stroke-width="1.3" />
<line x1="326.78" y1="330.63" x2="332.78" y2="330.63" stroke="#000" stroke-width="1.3" />
<line x1="329.78" y1="318.77" x2="329.78" y2="327.83" stroke="#000" stroke-width="1.3" />
<line x1="326.78" y1="318.77" x2="332.78" y2="318.77" stroke="#000" stroke-width="1.3" />
<line x1="326.78" y1="327.83" x2="332.78" y2="327.83" stroke="#000" stroke-width="1.3" />
<line x1="352.37" y1="304.12" x2="352.37" y2="313.18" stroke="#000" stroke-width="1.3" />
<line x1="349.37" y1="304.12" x2="355.37" y2="304.12" stroke="#000" stroke-width="1.3" />
<line x1="349.37" y1="313.18" x2="355.37" y2="313.18" stroke="#000" stroke-width="1.3" />
<line x1="352.37" y1="304.12" x2="352.37" y2="342.76" stroke="#000" stroke-width="1.3" />
<line x1="349.37" y1="304.12" x2="355.37" y2="304.12" stroke="#000" stroke-width="1.3" />
<line x1="349.37" y1="342.76" x2="355.37" y2="342.76" stroke="#000" stroke-width="1.3" />
<line x1="352.37" y1="316.77" x2="352.37" y2="327.44" stroke="#000" stroke-width="1.3" />
<line x1="349.37" y1="316.77" x2="355.37" y2="316.77" stroke="#000" stroke-width="1.3" />
<line x1="349.37" y1="327.44" x2="355.37" y2="327.44" stroke="#000" stroke-width="1.3" />
<line x1="374.96" y1="305.98" x2="374.96" y2="308.65" stroke="#000" stroke-width="1.3" />
<line x1="371.96" y1="305.98" x2="377.96" y2="305.98" stroke="#000" stroke-width="1.3" />
<line x1="371.96" y1="308.65" x2="377.96" y2="308.65" stroke="#000" stroke-width="1.3" />
<line x1="374.96" y1="320.24" x2="374.96" y2="342.89" stroke="#000" stroke-width="1.3" />
<line x1="371.96" y1="320.24" x2="377.96" y2="320.24" stroke="#000" stroke-width="1.3" />
<line x1="371.96" y1="342.89" x2="377.96" y2="342.89" stroke="#000" stroke-width="1.3" />
<line x1="374.96" y1="326.90" x2="374.96" y2="336.23" stroke="#000" stroke-width="1.3" />
<line x1="371.96" y1="326.90" x2="377.96" y2="326.90" stroke="#000" stroke-width="1.3" />
<line x1="371.96" y1="336.23" x2="377.96" y2="336.23" stroke="#000" stroke-width="1.3" />
<line x1="397.55" y1="306.25" x2="397.55" y2="310.25" stroke="#000" stroke-width="1.3" />
<line x1="394.55" y1="306.25" x2="400.55" y2="306.25" stroke="#000" stroke-width="1.3" />
<line x1="394.55" y1="310.25" x2="400.55" y2="310.25" stroke="#000" stroke-width="1.3" />
<line x1="397.55" y1="342.09" x2="397.55" y2="346.09" stroke="#000" stroke-width="1.3" />
<line x1="394.55" y1="342.09" x2="400.55" y2="342.09" stroke="#000" stroke-width="1.3" />
<line x1="394.55" y1="346.09" x2="400.55" y2="346.09" stroke="#000" stroke-width="1.3" />
<line x1="397.55" y1="341.43" x2="397.55" y2="345.42" stroke="#000" stroke-width="1.3" />
<line x1="394.55" y1="341.43" x2="400.55" y2="341.43" stroke="#000" stroke-width="1.3" />
<line x1="394.55" y1="345.42" x2="400.55" y2="345.42" stroke="#000" stroke-width="1.3" />
<line x1="420.14" y1="313.44" x2="420.14" y2="318.24" stroke="#000" stroke-width="1.3" />
<line x1="417.14" y1="313.44" x2="423.14" y2="313.44" stroke="#000" stroke-width="1.3" />
<line x1="417.14" y1="318.24" x2="423.14" y2="318.24" stroke="#000" stroke-width="1.3" />
<line x1="420.14" y1="355.82" x2="420.14" y2="367.28" stroke="#000" stroke-width="1.3" />
<line x1="417.14" y1="355.82" x2="423.14" y2="355.82" stroke="#000" stroke-width="1.3" />
<line x1="417.14" y1="367.28" x2="423.14" y2="367.28" stroke="#000" stroke-width="1.3" />
<line x1="420.14" y1="345.02" x2="420.14" y2="358.08" stroke="#000" stroke-width="1.3" />
<line x1="417.14" y1="345.02" x2="423.14" y2="345.02" stroke="#000" stroke-width="1.3" />
<line x1="417.14" y1="358.08" x2="423.14" y2="358.08" stroke="#000" stroke-width="1.3" />
<line x1="442.73" y1="327.70" x2="442.73" y2="338.09" stroke="#000" stroke-width="1.3" />
<line x1="439.73" y1="327.70" x2="445.73" y2="327.70" stroke="#000" stroke-width="1.3" />
<line x1="439.73" y1="338.09" x2="445.73" y2="338.09" stroke="#000" stroke-width="1.3" />
<line x1="442.73" y1="370.21" x2="442.73" y2="383.27" stroke="#000" stroke-width="1.3" />
<line x1="439.73" y1="370.21" x2="445.73" y2="370.21" stroke="#000" stroke-width="1.3" />
<line x1="439.73" y1="383.27" x2="445.73" y2="383.27" stroke="#000" stroke-width="1.3" />
<line x1="442.73" y1="358.08" x2="442.73" y2="371.94" stroke="#000" stroke-width="1.3" />
<line x1="439.73" y1="358.08" x2="445.73" y2="358.08" stroke="#000" stroke-width="1.3" />
<line x1="439.73" y1="371.94" x2="445.73" y2="371.94" stroke="#000" stroke-width="1.3" />
<polyline points="284.60,302.78 307.19,306.12 329.78,300.12 352.37,308.65 374.96,307.31 397.55,308.25 420.14,315.84 442.73,332.90" fill="none" stroke="#000" stroke-width="1.4" stroke-linejoin="round"/>
<polyline points="284.60,303.45 307.19,306.78 329.78,319.04 352.37,323.44 374.96,331.57 397.55,344.09 420.14,361.55 442.73,376.74" fill="none" stroke="#000" stroke-width="1.4" stroke-dasharray="4,2.5" stroke-linejoin="round"/>
<polyline points="284.60,304.78 307.19,320.24 329.78,323.30 352.37,322.11 374.96,331.57 397.55,343.42 420.14,351.55 442.73,365.01" fill="none" stroke="#000" stroke-width="1.4" stroke-dasharray="4,2.5" stroke-linejoin="round"/>
<circle cx="284.60" cy="303.45" r="2.20" fill="none" stroke="#000" stroke-width="1.2"/>
<line x1="282.40" y1="303.45" x2="286.80" y2="303.45" stroke="#000" stroke-width="1.0" />
<polygon points="281.90,302.38 287.30,302.38 284.60,307.48" fill="none" stroke="#000" stroke-width="1.2" stroke-linejoin="miter"/>
<rect x="281.90" y="300.08" width="5.40" height="5.40" fill="#000" stroke="none" stroke-width="1" />
<circle cx="307.19" cy="306.78" r="2.20" fill="none" stroke="#000" stroke-width="1.2"/>
<line x1="304.99" y1="306.78" x2="309.39" y2="306.78" stroke="#000" stroke-width="1.0" />
<polygon points="304.49,317.84 309.89,317.84 307.19,322.94" fill="none" stroke="#000" stroke-width="1.2" stroke-linejoin="miter"/>
<rect x="304.49" y="303.42" width="5.40" height="5.40" fill="#000" stroke="none" stroke-width="1" />
<circle cx="329.78" cy="319.04" r="2.20" fill="none" stroke="#000" stroke-width="1.2"/>
<line x1="327.58" y1="319.04" x2="331.98" y2="319.04" stroke="#000" stroke-width="1.0" />
<polygon points="327.08,320.90 332.48,320.90 329.78,326.00" fill="none" stroke="#000" stroke-width="1.2" stroke-linejoin="miter"/>
<rect x="327.08" y="297.42" width="5.40" height="5.40" fill="#000" stroke="none" stroke-width="1" />
<circle cx="352.37" cy="323.44" r="2.20" fill="none" stroke="#000" stroke-width="1.2"/>
<line x1="350.17" y1="323.44" x2="354.57" y2="323.44" stroke="#000" stroke-width="1.0" />
<polygon points="349.67,319.71 355.07,319.71 352.37,324.81" fill="none" stroke="#000" stroke-width="1.2" stroke-linejoin="miter"/>
<rect x="349.67" y="305.95" width="5.40" height="5.40" fill="#000" stroke="none" stroke-width="1" />
<circle cx="374.96" cy="331.57" r="2.20" fill="none" stroke="#000" stroke-width="1.2"/>
<line x1="372.76" y1="331.57" x2="377.16" y2="331.57" stroke="#000" stroke-width="1.0" />
<polygon points="372.26,329.17 377.66,329.17 374.96,334.27" fill="none" stroke="#000" stroke-width="1.2" stroke-linejoin="miter"/>
<rect x="372.26" y="304.61" width="5.40" height="5.40" fill="#000" stroke="none" stroke-width="1" />
<circle cx="397.55" cy="344.09" r="2.20" fill="none" stroke="#000" stroke-width="1.2"/>
<line x1="395.35" y1="344.09" x2="399.75" y2="344.09" stroke="#000" stroke-width="1.0" />
<polygon points="394.85,341.02 400.25,341.02 397.55,346.12" fill="none" stroke="#000" stroke-width="1.2" stroke-linejoin="miter"/>
<rect x="394.85" y="305.55" width="5.40" height="5.40" fill="#000" stroke="none" stroke-width="1" />
<circle cx="420.14" cy="361.55" r="2.20" fill="none" stroke="#000" stroke-width="1.2"/>
<line x1="417.94" y1="361.55" x2="422.34" y2="361.55" stroke="#000" stroke-width="1.0" />
<polygon points="417.44,349.15 422.84,349.15 420.14,354.25" fill="none" stroke="#000" stroke-width="1.2" stroke-linejoin="miter"/>
<rect x="417.44" y="313.14" width="5.40" height="5.40" fill="#000" stroke="none" stroke-width="1" />
<circle cx="442.73" cy="376.74" r="2.20" fill="none" stroke="#000" stroke-width="1.2"/>
<line x1="440.53" y1="376.74" x2="444.93" y2="376.74" stroke="#000" stroke-width="1.0" />
<polygon points="440.03,362.61 445.43,362.61 442.73,367.71" fill="none" stroke="#000" stroke-width="1.2" stroke-linejoin="miter"/>
<rect x="440.03" y="330.20" width="5.40" height="5.40" fill="#000" stroke="none" stroke-width="1" />
<line x1="283.30" y1="394.80" x2="302.60" y2="394.80" stroke="#000" stroke-width="1.4" />
<rect x="291.30" y="392.10" width="5.40" height="5.40" fill="#000" stroke="none" stroke-width="1" />
<text x="305.50" y="398.50" font-size="10.4" font-weight="bold" text-anchor="start" fill="#111" textLength="41.6" lengthAdjust="spacingAndGlyphs" stroke="#111" stroke-width="0.22">shScram</text>
<line x1="283.60" y1="410.40" x2="288.40" y2="410.40" stroke="#000" stroke-width="1.5" />
<line x1="297.80" y1="410.40" x2="302.20" y2="410.40" stroke="#000" stroke-width="1.5" />
<circle cx="293.00" cy="410.40" r="2.20" fill="none" stroke="#000" stroke-width="1.2"/>
<line x1="290.80" y1="410.40" x2="295.20" y2="410.40" stroke="#000" stroke-width="1.0" />
<text x="305.50" y="414.10" font-size="10.4" font-weight="bold" text-anchor="start" fill="#111" textLength="53.4" lengthAdjust="spacingAndGlyphs" stroke="#111" stroke-width="0.22">shCd44 cl.1</text>
<line x1="283.60" y1="425.50" x2="288.40" y2="425.50" stroke="#000" stroke-width="1.5" />
<line x1="297.80" y1="425.50" x2="302.20" y2="425.50" stroke="#000" stroke-width="1.5" />
<polygon points="290.30,423.10 295.70,423.10 293.00,428.20" fill="none" stroke="#000" stroke-width="1.2" stroke-linejoin="miter"/>
<text x="305.50" y="429.20" font-size="10.4" font-weight="bold" text-anchor="start" fill="#111" textLength="53.4" lengthAdjust="spacingAndGlyphs" stroke="#111" stroke-width="0.22">shCd44 cl.3</text>
<text x="502.60" y="243.60" font-size="11.5" font-weight="bold" text-anchor="start" fill="#111" stroke="#111" stroke-width="0.5">e</text>
<text x="594.00" y="268.10" font-size="10" font-weight="bold" text-anchor="start" fill="#111" textLength="31.5" lengthAdjust="spacingAndGlyphs" stroke="#111" stroke-width="0.22">P&lt;0.01</text>
<line x1="553.30" y1="275.30" x2="656.40" y2="275.30" stroke="#333" stroke-width="1.2" />
<text x="568.90" y="292.70" font-size="10" font-weight="bold" text-anchor="start" fill="#111" textLength="31.5" lengthAdjust="spacingAndGlyphs" stroke="#111" stroke-width="0.22">P&lt;0.01</text>
<line x1="555.70" y1="300.00" x2="607.80" y2="300.00" stroke="#555" stroke-width="1.2" />
<line x1="525.20" y1="302.40" x2="525.20" y2="438.35" stroke="#000" stroke-width="1.5" />
<line x1="524.45" y1="437.60" x2="680.30" y2="437.60" stroke="#000" stroke-width="1.5" />
<line x1="521.70" y1="437.70" x2="525.20" y2="437.70" stroke="#000" stroke-width="1.2" />
<text x="520.70" y="441.10" font-size="8.6" font-weight="normal" text-anchor="end" fill="#111" textLength="4.4" lengthAdjust="spacingAndGlyphs" stroke="#111" stroke-width="0.35">0</text>
<line x1="521.70" y1="404.00" x2="525.20" y2="404.00" stroke="#000" stroke-width="1.2" />
<text x="520.70" y="407.40" font-size="8.6" font-weight="normal" text-anchor="end" fill="#111" textLength="8.0" lengthAdjust="spacingAndGlyphs" stroke="#111" stroke-width="0.35">50</text>
<line x1="521.70" y1="370.30" x2="525.20" y2="370.30" stroke="#000" stroke-width="1.2" />
<text x="520.70" y="373.70" font-size="8.6" font-weight="normal" text-anchor="end" fill="#111" textLength="10.6" lengthAdjust="spacingAndGlyphs" stroke="#111" stroke-width="0.35">100</text>
<line x1="521.70" y1="336.60" x2="525.20" y2="336.60" stroke="#000" stroke-width="1.2" />
<text x="520.70" y="340.00" font-size="8.6" font-weight="normal" text-anchor="end" fill="#111" textLength="10.6" lengthAdjust="spacingAndGlyphs" stroke="#111" stroke-width="0.35">150</text>
<line x1="521.70" y1="302.90" x2="525.20" y2="302.90" stroke="#000" stroke-width="1.2" />
<text x="520.70" y="306.30" font-size="8.6" font-weight="normal" text-anchor="end" fill="#111" textLength="10.6" lengthAdjust="spacingAndGlyphs" stroke="#111" stroke-width="0.35">200</text>
<rect x="534.95" y="318.85" width="33.10" height="118.75" fill="url(#chk2)" stroke="#000" stroke-width="1.3" />
<line x1="535.60" y1="329.70" x2="567.40" y2="329.70" stroke="#222" stroke-width="0.8" />
<line x1="535.60" y1="351.00" x2="567.40" y2="351.00" stroke="#222" stroke-width="0.8" />
<line x1="535.60" y1="368.30" x2="567.40" y2="368.30" stroke="#222" stroke-width="0.8" />
<line x1="535.60" y1="387.00" x2="567.40" y2="387.00" stroke="#222" stroke-width="0.8" />
<line x1="535.60" y1="403.00" x2="567.40" y2="403.00" stroke="#222" stroke-width="0.8" />
<line x1="535.60" y1="420.30" x2="567.40" y2="420.30" stroke="#222" stroke-width="0.8" />
<line x1="551.30" y1="318.20" x2="551.30" y2="308.60" stroke="#000" stroke-width="1.3" />
<line x1="542.50" y1="308.60" x2="560.20" y2="308.60" stroke="#000" stroke-width="1.3" />
<rect x="585.65" y="377.65" width="33.20" height="59.95" fill="url(#fine2)" stroke="#000" stroke-width="1.3" />
<line x1="585.60" y1="387.50" x2="618.90" y2="387.50" stroke="#222" stroke-width="0.9" />
<line x1="585.60" y1="389.70" x2="618.90" y2="389.70" stroke="#222" stroke-width="0.9" />
<line x1="585.60" y1="405.00" x2="618.90" y2="405.00" stroke="#222" stroke-width="0.9" />
<line x1="585.60" y1="419.40" x2="618.90" y2="419.40" stroke="#222" stroke-width="0.9" />
<line x1="585.60" y1="421.60" x2="618.90" y2="421.60" stroke="#222" stroke-width="0.9" />
<line x1="602.30" y1="377.00" x2="602.30" y2="360.10" stroke="#000" stroke-width="1.3" />
<line x1="593.50" y1="360.10" x2="611.10" y2="360.10" stroke="#000" stroke-width="1.3" />
<rect x="636.65" y="384.65" width="33.60" height="52.95" fill="url(#diag)" stroke="#000" stroke-width="1.3" />
<line x1="653.70" y1="384.00" x2="653.70" y2="375.40" stroke="#000" stroke-width="1.3" />
<line x1="644.90" y1="375.40" x2="662.50" y2="375.40" stroke="#000" stroke-width="1.3" />
<line x1="554.00" y1="305.30" x2="556.20" y2="305.30" stroke="#5a78c8" stroke-width="0.8" />
<line x1="551.30" y1="437.60" x2="551.30" y2="440.60" stroke="#000" stroke-width="1.2" />
<line x1="602.30" y1="437.60" x2="602.30" y2="440.60" stroke="#000" stroke-width="1.2" />
<line x1="653.70" y1="437.60" x2="653.70" y2="440.60" stroke="#000" stroke-width="1.2" />
<text x="549.60" y="450.20" font-size="8.6" font-weight="normal" text-anchor="middle" fill="#111" textLength="30.0" lengthAdjust="spacingAndGlyphs" stroke="#111" stroke-width="0.15">shScram</text>
<text x="601.00" y="450.20" font-size="8.6" font-weight="normal" text-anchor="middle" fill="#111" textLength="39.0" lengthAdjust="spacingAndGlyphs" stroke="#111" stroke-width="0.15">shCd44 cl.1</text>
<text x="652.00" y="450.20" font-size="8.6" font-weight="normal" text-anchor="middle" fill="#111" textLength="38.4" lengthAdjust="spacingAndGlyphs" stroke="#111" stroke-width="0.15">shCd44 cl.3</text>
<text x="507.7" y="421.5" font-size="8.4" font-weight="normal" fill="#111" textLength="93.6" lengthAdjust="spacing" stroke="#111" stroke-width="0.2" transform="rotate(-90 507.7 421.5)">Invaded cells/well</text>
</g>
</svg>
</body></html>
